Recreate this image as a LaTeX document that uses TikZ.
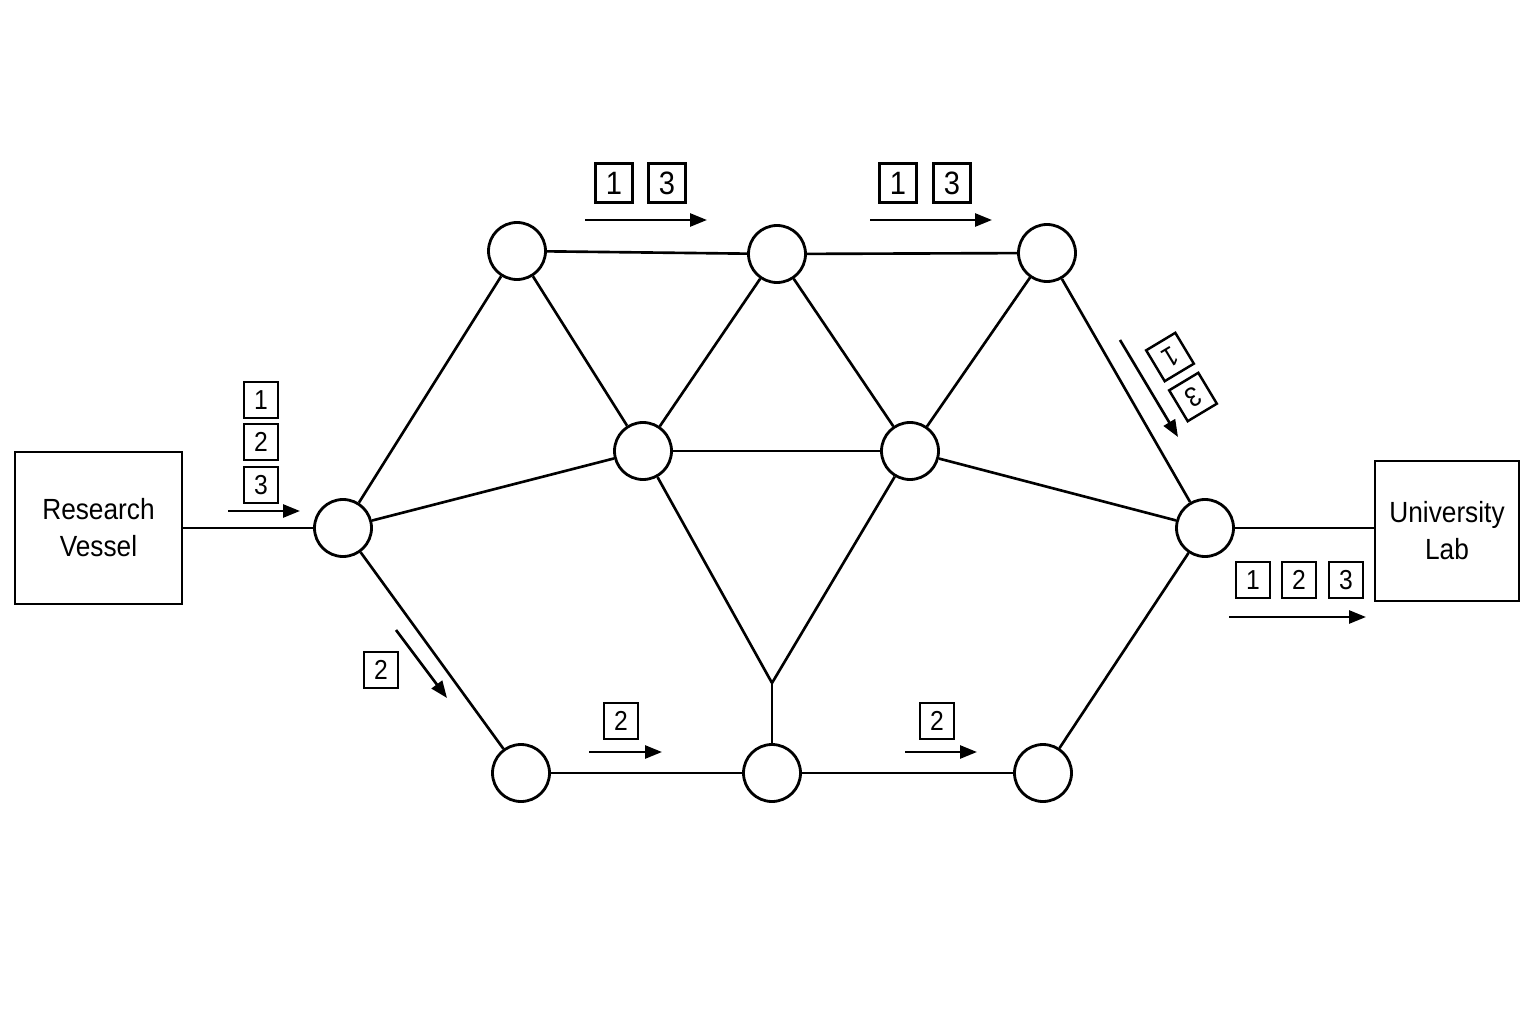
\documentclass[tikz,border=0pt]{standalone}
\usepackage{fontspec}
\setmainfont[FakeStretch=0.9]{Liberation Sans}
\usetikzlibrary{arrows.meta}

\tikzset{
  hub/.style={draw,circle,line width=0.8pt,minimum size=0.57cm,inner sep=0pt,fill=white},
  site/.style={draw,line width=0.8pt,align=center,font=\fontsize{8.3}{10.5}\selectfont,inner sep=0pt},
  pkt/.style={draw,line width=0.7pt,minimum width=0.34cm,minimum height=0.36cm,inner sep=0pt,font=\fontsize{7.8}{9}\selectfont},
  bigpkt/.style={pkt,minimum width=0.37cm,minimum height=0.39cm,font=\fontsize{9.2}{10}\selectfont},
  link/.style={line width=0.75pt},
  flow/.style={line width=0.75pt,-{Triangle[length=1.7mm,width=1.3mm]}}
}

\begin{document}
\begin{tikzpicture}
  \useasboundingbox (0,0) rectangle (15.36,10.24);

  % 端点
  \node[site,minimum width=1.67cm,minimum height=1.52cm] (vessel) at (0.985,4.96) {Research\\Vessel};
  \node[site,minimum width=1.44cm,minimum height=1.40cm] (lab) at (14.47,4.93) {University\\Lab};

  % 路由节点
  \node[hub] (n0) at (3.43,4.96) {};
  \node[hub] (t1) at (5.17,7.73) {};
  \node[hub] (t2) at (7.77,7.70) {};
  \node[hub] (t3) at (10.47,7.71) {};
  \node[hub] (m1) at (6.43,5.73) {};
  \node[hub] (m2) at (9.10,5.73) {};
  \node[hub] (r)  at (12.05,4.96) {};
  \node[hub] (b1) at (5.21,2.51) {};
  \node[hub] (b2) at (7.72,2.51) {};
  \node[hub] (b3) at (10.43,2.51) {};
  \coordinate (fork) at (7.72,3.41);

  % 连线
  \draw[link] (vessel) -- (n0);
  \draw[link] (n0) -- (t1);
  \draw[link] (n0) -- (m1);
  \draw[link] (n0) -- (b1);
  \draw[link] (t1) -- (t2);
  \draw[link] (t2) -- (t3);
  \draw[link] (t1) -- (m1);
  \draw[link] (t2) -- (m1);
  \draw[link] (t2) -- (m2);
  \draw[link] (t3) -- (m2);
  \draw[link] (m1) -- (m2);
  \draw[link] (m1) -- (fork);
  \draw[link] (m2) -- (fork);
  \draw[link] (fork) -- (b2);
  \draw[link] (b1) -- (b2);
  \draw[link] (b2) -- (b3);
  \draw[link] (t3) -- (r);
  \draw[link] (m2) -- (r);
  \draw[link] (b3) -- (r);
  \draw[link] (r) -- (r -| lab.west);

  % 数据包与方向
  \coordinate (f1s) at (2.28,5.13); \coordinate (f1e) at (3.00,5.13);
  \draw[flow] (f1s) -- (f1e);
  \node[pkt] (p11) at (2.61,6.24) {1};
  \node[pkt] (p12) at (2.61,5.82) {2};
  \node[pkt] (p13) at (2.61,5.39) {3};

  \coordinate (f2s) at (3.96,3.94); \coordinate (f2e) at (4.47,3.26);
  \draw[flow] (f2s) -- (f2e);
  \node[pkt] (p22) at (3.81,3.54) {2};

  \coordinate (f3s) at (5.85,8.04); \coordinate (f3e) at (7.07,8.04);
  \draw[flow] (f3s) -- (f3e);
  \node[bigpkt] (p31) at (6.14,8.41) {1};
  \node[bigpkt] (p33) at (6.67,8.41) {3};

  \coordinate (f4s) at (8.70,8.04); \coordinate (f4e) at (9.92,8.04);
  \draw[flow] (f4s) -- (f4e);
  \node[bigpkt] (p41) at (8.98,8.41) {1};
  \node[bigpkt] (p43) at (9.52,8.41) {3};

  \coordinate (f5s) at (11.20,6.84); \coordinate (f5e) at (11.78,5.87);
  \draw[flow] (f5s) -- (f5e);
  \node[pkt,rotate=-149] (p51) at (11.70,6.67) {1};
  \node[pkt,rotate=-149] (p53) at (11.93,6.27) {3};

  \coordinate (f6s) at (5.89,2.72); \coordinate (f6e) at (6.62,2.72);
  \draw[flow] (f6s) -- (f6e);
  \node[pkt] (p62) at (6.21,3.03) {2};

  \coordinate (f7s) at (9.05,2.72); \coordinate (f7e) at (9.77,2.72);
  \draw[flow] (f7s) -- (f7e);
  \node[pkt] (p72) at (9.37,3.03) {2};

  \coordinate (f8s) at (12.29,4.07); \coordinate (f8e) at (13.66,4.07);
  \draw[flow] (f8s) -- (f8e);
  \node[pkt] (p81) at (12.53,4.44) {1};
  \node[pkt] (p82) at (12.99,4.44) {2};
  \node[pkt] (p83) at (13.46,4.44) {3};
\end{tikzpicture}
\end{document}
